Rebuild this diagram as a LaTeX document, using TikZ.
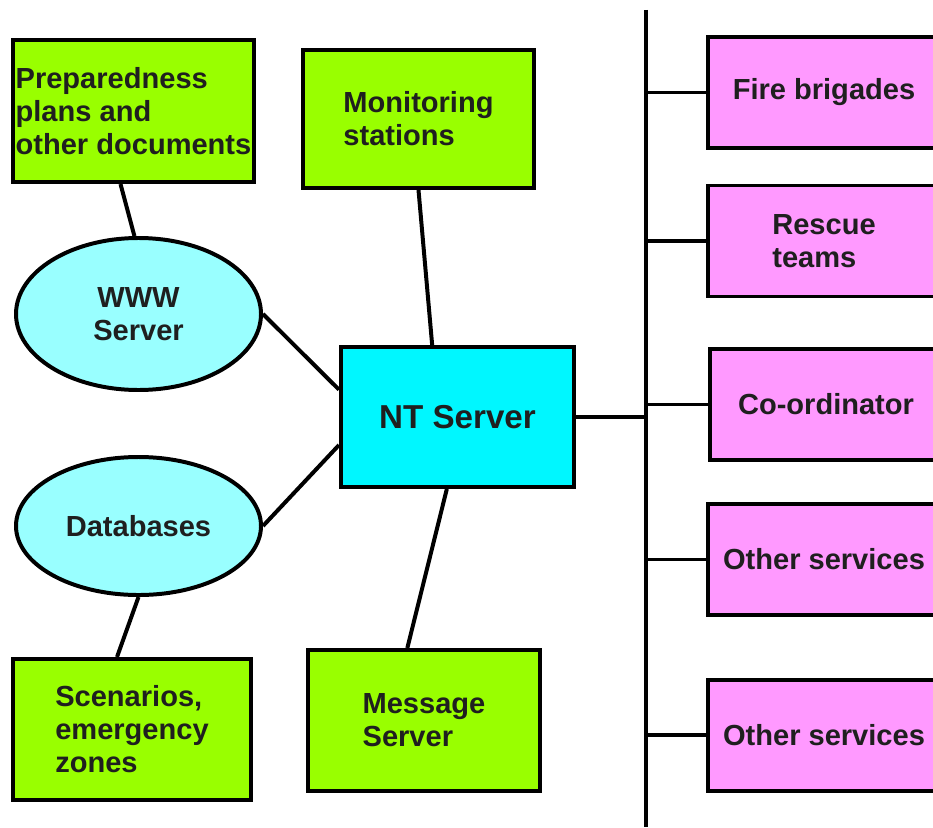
\documentclass[tikz,border=0pt]{standalone}
\usepackage{fontspec}
\setmainfont{Liberation Sans}
\usepackage{xcolor}
\usepackage{tikz}
\usetikzlibrary{
  shapes.geometric,
  positioning
}

\definecolor{boxgreen}{RGB}{153,255,0}
\definecolor{boxcyan}{RGB}{0,247,255}
\definecolor{ovalcyan}{RGB}{153,255,255}
\definecolor{boxpink}{RGB}{255,153,255}

\begin{document}
\begin{tikzpicture}[%基本設定
          x=0.3mm,y=-0.3mm,
          every node/.style={
              text=black!88,
              font=\fontsize{24.8}{28.2}\selectfont\bfseries
            },
          box/.style={
              draw=black,
              line width=3.4pt,
              rectangle,
              align=left,
              inner sep=0pt
            },
          greenbox/.style={
              box,
              fill=boxgreen
            },
          pinkbox/.style={
              box,
              fill=boxpink,
              align=center,
              minimum width=69.6mm,
              minimum height=33.3mm
            },
          oval/.style={
              draw=black,
              line width=3.4pt,
              ellipse,
              fill=ovalcyan,
              align=center,
              inner sep=0pt
            },
          link/.style={
              line width=3.4pt
            }
        ]

        % 範囲
        \useasboundingbox (0,0) rectangle (933,827);

        % 左側のノード
        \node[greenbox,minimum width=72.3mm,minimum height=42.6mm]
          (prep) at (133.5,111) {Preparedness\\plans and\\other documents};
        \node[greenbox,minimum width=69.3mm,minimum height=41.4mm]
          (mon) at (418.5,119) {Monitoring\\stations};
        \node[oval,minimum width=73.5mm,minimum height=45.6mm]
          (www) at (138.5,314) {WWW\\Server};
        \node[oval,minimum width=73.5mm,minimum height=41.4mm]
          (db) at (138.5,526) {Databases};
        \node[box,fill=boxcyan,align=center,minimum width=69.9mm,minimum height=42mm,
          font=\fontsize{28.3}{32}\selectfont\bfseries]
          (nt) at (457.5,417) {NT Server};
        \node[greenbox,minimum width=71.4mm,minimum height=42.3mm]
          (scen) at (132,729.5) {Scenarios,\\emergency\\zones};
        \node[greenbox,minimum width=69.6mm,minimum height=42.3mm]
          (msg) at (424,720.5) {Message\\Server};

        % 右側のノード
        \node[pinkbox] (fire) at (824,92.5) {Fire brigades};
        \node[pinkbox,align=left] (rescue) at (824,241) {Rescue\\teams};
        \node[pinkbox] (coord) at (826,404.5) {Co-ordinator};
        \node[pinkbox] (other1) at (824,559.5) {Other services};
        \node[pinkbox] (other2) at (824,735) {Other services};

        % バス
        \coordinate (bustop) at (646,10);
        \coordinate (busbot) at (646,827);
        \draw[line width=3.4pt] (bustop) -- (busbot);

        % 接続線
        \draw[link] ([xshift=-3.9mm]prep.south) -- (www.93);
        \draw[link] (mon.south) -- ([xshift=-7.6mm]nt.north);
        \draw[link] (www.east) -- ([yshift=8.2mm]nt.west);
        \draw[link] (db.east) -- ([yshift=-8.4mm]nt.west);
        \draw[link] (db.south) -- ([xshift=-4.5mm]scen.north);
        \draw[link] ([xshift=-3.2mm]nt.south) -- ([xshift=-5mm]msg.north);
        \draw[link] (nt.east) -- (nt.east -| bustop);
        \foreach \n in {fire,rescue,coord,other1,other2}
          \draw[link] (\n.west) -- (\n.west -| bustop);

      \end{tikzpicture}
\end{document}
